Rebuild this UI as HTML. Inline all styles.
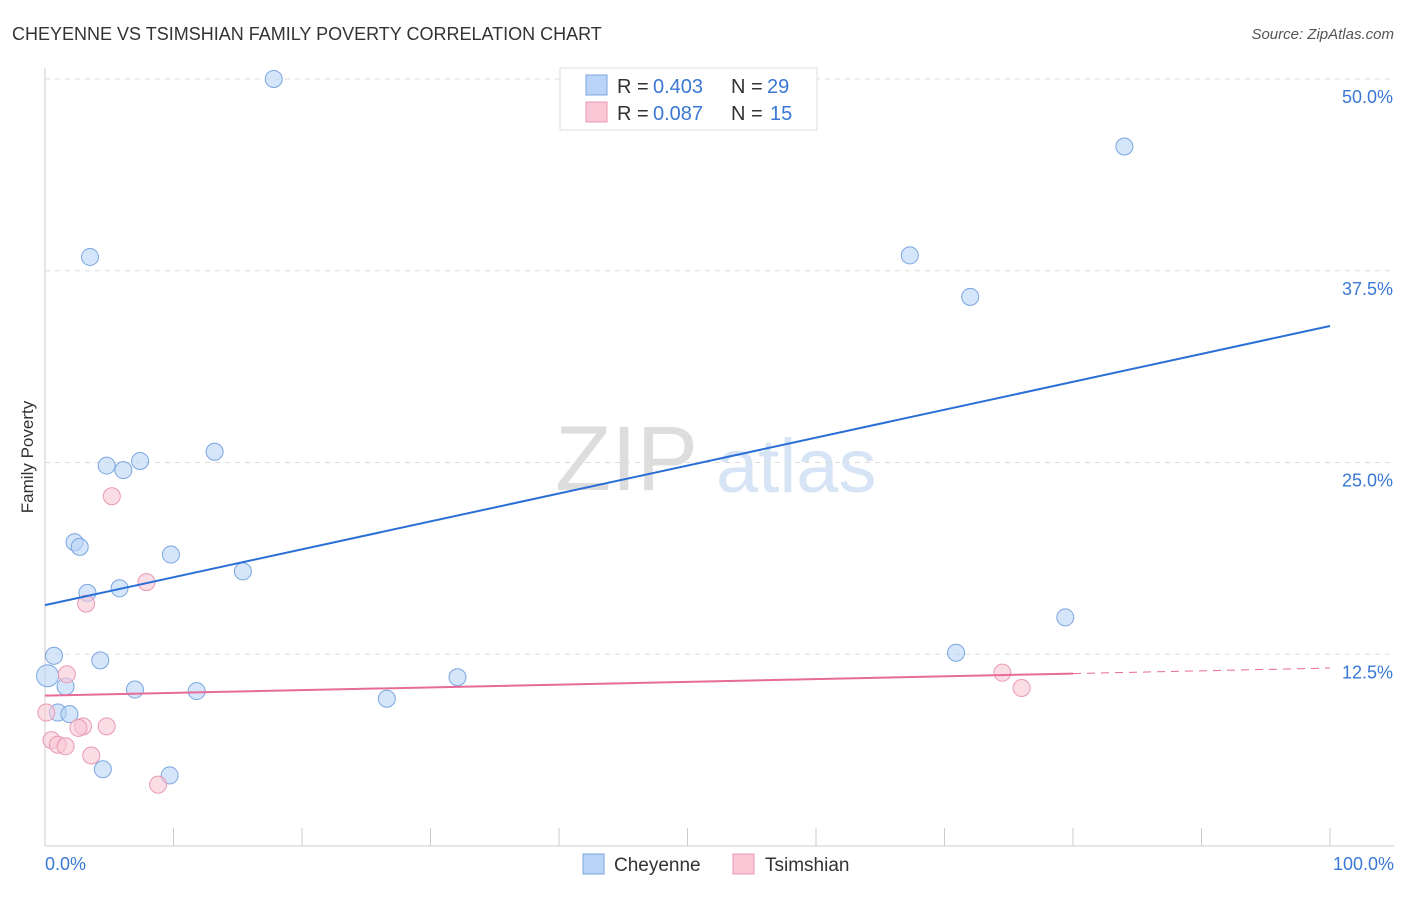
<!DOCTYPE html>
<html><head><meta charset="utf-8"><style>
body{margin:0;background:#fff;font-family:"Liberation Sans",sans-serif}
svg text{font-family:"Liberation Sans",sans-serif}
</style></head><body>
<svg id="c" width="1406" height="892" xmlns="http://www.w3.org/2000/svg">
<text x="12" y="40" font-size="18" fill="#333">CHEYENNE VS TSIMSHIAN FAMILY POVERTY CORRELATION CHART</text>
<text x="1394" y="39" font-size="15" fill="#555" font-style="italic" text-anchor="end">Source: ZipAtlas.com</text>
<text x="33" y="457" font-size="17" fill="#333" text-anchor="middle" transform="rotate(-90 33 457)">Family Poverty</text>
<text x="555" y="490" font-size="92" fill="#ddd" font-family="Liberation Serif">ZIP</text>
<text x="716" y="492" font-size="76" fill="#d6e4f5">atlas</text>
<g id="grid"></g><g id="pts"></g><g id="lines"></g>
<g>
<rect x="560" y="68" width="257" height="62" fill="#fff" stroke="#ddd"/>
<rect x="586" y="75" width="21" height="20" fill="#b9d4f6" stroke="#7aa6e0"/>
<rect x="586" y="102" width="21" height="20" fill="#f9c7d6" stroke="#e99ab3"/>
<text x="617" y="93" font-size="20" fill="#333">R =</text>
<text x="653" y="93" font-size="20" fill="#3a78d4">0.403</text>
<text x="731" y="93" font-size="20" fill="#333">N =</text>
<text x="767" y="93" font-size="20" fill="#3a78d4">29</text>
<text x="617" y="120" font-size="20" fill="#333">R =</text>
<text x="653" y="120" font-size="20" fill="#3a78d4">0.087</text>
<text x="731" y="120" font-size="20" fill="#333">N =</text>
<text x="770" y="120" font-size="20" fill="#3a78d4">15</text>
</g>
<g>
<rect x="583" y="854" width="21" height="20" fill="#b9d4f6" stroke="#7aa6e0"/>
<text x="614" y="871" font-size="19" fill="#333">Cheyenne</text>
<rect x="733" y="854" width="21" height="20" fill="#f9c7d6" stroke="#e99ab3"/>
<text x="765" y="871" font-size="19" fill="#333">Tsimshian</text>
</g>
</svg>
<script>
const yTicks=[12.5,25,37.5,50];
const xTickLabels=["0.0%","100.0%"];
const cheyX=[17.8,84.0,3.5,67.3,72.0,4.8,6.1,7.4,13.2,2.3,2.7,9.8,15.4,3.3,5.8,79.4,0.7,4.3,70.9,0.2,1.6,7.0,11.8,32.1,26.6,1.0,1.9,4.5,9.7];
const cheyY=[50.0,45.6,38.4,38.5,35.8,24.8,24.5,25.1,25.7,19.8,19.5,19.0,17.9,16.5,16.8,14.9,12.4,12.1,12.6,11.1,10.4,10.2,10.1,11.0,9.6,8.7,8.6,5.0,4.6];
const tsimX=[5.2,7.9,3.2,1.7,74.5,76.0,0.1,2.96,2.6,4.8,0.5,1.0,1.6,3.6,8.8];
const tsimY=[22.8,17.2,15.8,11.2,11.3,10.3,8.7,7.8,7.7,7.8,6.9,6.6,6.5,5.9,4.0];
const cheyTrend=[15.7,33.9];
const tsimTrend=[9.8,11.6];
const X=v=>45+v*12.85, Y=v=>846-v*15.34;
const NS="http://www.w3.org/2000/svg";
function mk(t,a,p){const e=document.createElementNS(NS,t);for(const k in a)e.setAttribute(k,a[k]);p.appendChild(e);return e;}
const g=document.getElementById('grid'),pts=document.getElementById('pts'),ln=document.getElementById('lines');
yTicks.forEach(v=>{
 const l=mk('line',{x1:45,x2:1394,y1:Y(v),y2:Y(v),stroke:'#ddd','stroke-dasharray':'5,5'},g);
 
 
 const t=mk('text',{x:1393,y:Y(v)+24,'font-size':18,fill:'#3a78d4','text-anchor':'end'},g);t.textContent=v.toFixed(1)+'%';
 
 
});
const ax=mk('line',{x1:45,x2:45,y1:68,y2:846,stroke:'#ccc'},g);


const bx=mk('line',{x1:45,x2:1394,y1:846,y2:846,stroke:'#ccc'},g);


for(let i=0;i<=10;i++){const t=mk('line',{x1:X(i*10),x2:X(i*10),y1:828,y2:846,stroke:'#ccc'},g);
 
 }
[[0,'start',45],[1,'end',1394]].forEach(([i,a,x])=>{const t=mk('text',{x:x,y:870,'font-size':18,fill:'#3a78d4','text-anchor':a},g);t.textContent=xTickLabels[i];
 
 });
cheyX.forEach((v,i)=>{const c=mk('circle',{cx:X(v),cy:Y(cheyY[i]),r:i==19?11:8.5,fill:'rgba(185,212,246,0.6)',stroke:'#7aa6e0','stroke-width':1},pts);
 
 });
tsimX.forEach((v,i)=>{const c=mk('circle',{cx:X(v),cy:Y(tsimY[i]),r:8.5,fill:'rgba(249,199,214,0.6)',stroke:'#e99ab3','stroke-width':1},pts);
 
 });
const l1=mk('line',{x1:X(0),y1:Y(cheyTrend[0]),x2:X(100),y2:Y(cheyTrend[1]),stroke:'#2a6fd6','stroke-width':2},ln);


const tAt=x=>tsimTrend[0]+(tsimTrend[1]-tsimTrend[0])*x/100;
const l2=mk('line',{x1:X(0),y1:Y(tAt(0)),x2:X(80),y2:Y(tAt(80)),stroke:'#e66b97','stroke-width':2},ln);


const l3=mk('line',{x1:X(80),y1:Y(tAt(80)),x2:X(100),y2:Y(tAt(100)),stroke:'#e66b97','stroke-width':1,'stroke-dasharray':'8,6'},ln);


</script>
</body></html>
